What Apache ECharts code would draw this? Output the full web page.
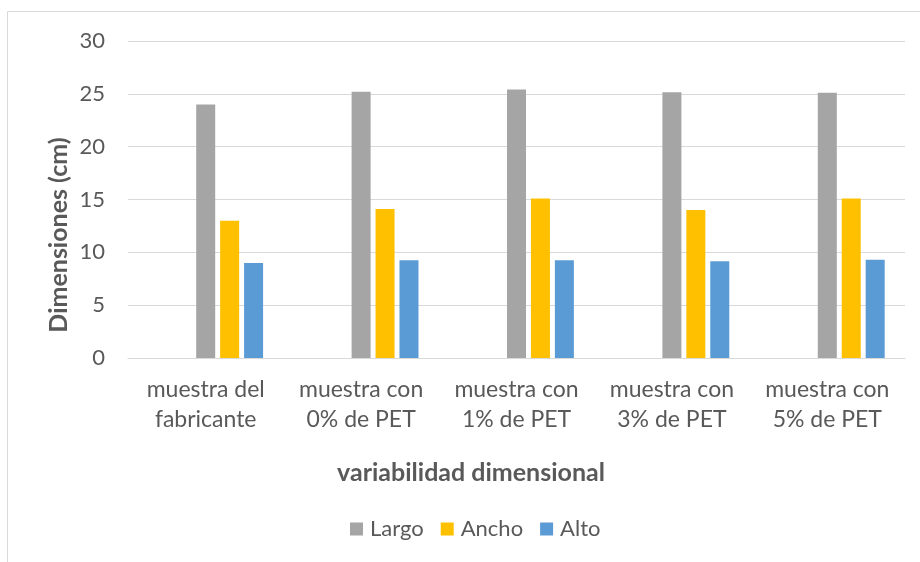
<!DOCTYPE html>
<html>
<head>
<meta charset="utf-8">
<style>
  html, body { margin: 0; padding: 0; background: #fff; }
  #chart { width: 920px; height: 562px; }
</style>
<script src="https://cdn.jsdelivr.net/npm/echarts@6/dist/echarts.min.js"></script>
</head>
<body>
<div id="chart"></div>
<script>
const categories = [
  'muestra del\nfabricante',
  'muestra con\n0% de PET',
  'muestra con\n1% de PET',
  'muestra con\n3% de PET',
  'muestra con\n5% de PET'
];
const largo = [24.0, 25.2, 25.4, 25.15, 25.1];
const ancho = [13.0, 14.1, 15.1, 14.0, 15.1];
const alto  = [9.0, 9.25, 9.25, 9.15, 9.3];
const yTicks = { min: 0, max: 30, interval: 5 };

const FONT = 'Lato';
const TEXT = '#595959';
const GRID_LINE = '#d9d9d9';

const chart = echarts.init(document.getElementById('chart'), null, { renderer: 'canvas' });

const barBase = { type: 'bar', barWidth: 19, barGap: '26%' };

chart.setOption({
  animation: false,
  textStyle: { fontFamily: FONT, color: TEXT },
  grid: { left: 128, right: 15, top: 41, bottom: 204, containLabel: false },
  xAxis: {
    type: 'category',
    data: categories,
    axisLine: { lineStyle: { color: GRID_LINE, width: 1 } },
    axisTick: { show: false },
    axisLabel: { color: TEXT, fontSize: 23, lineHeight: 30, margin: 17, fontFamily: FONT, interval: 0 }
  },
  yAxis: {
    type: 'value',
    min: yTicks.min, max: yTicks.max, interval: yTicks.interval,
    axisLine: { show: false },
    axisTick: { show: false },
    splitLine: { lineStyle: { color: GRID_LINE, width: 1 } },
    axisLabel: { color: TEXT, fontSize: 22, margin: 23, fontFamily: FONT }
  },
  legend: {
    data: ['Largo', 'Ancho', 'Alto'],
    bottom: 22,
    left: 350,
    icon: 'rect',
    itemWidth: 13,
    itemHeight: 13,
    itemGap: 17,
    padding: 0,
    textStyle: { color: TEXT, fontSize: 22, fontFamily: FONT, padding: [0, 0, 0, 2] }
  },
  graphic: [
    {
      type: 'rect',
      shape: { x: 7.5, y: 11.5, width: 960, height: 600 },
      style: { fill: 'none', stroke: '#d9d9d9', lineWidth: 1 },
      silent: true
    },
    {
      type: 'text',
      x: 59, y: 235,
      rotation: Math.PI / 2,
      style: {
        text: 'Dimensiones (cm)',
        fontFamily: FONT, fontSize: 25, fontWeight: 'bold',
        fill: TEXT, align: 'center', verticalAlign: 'middle'
      }
    },
    {
      type: 'text',
      x: 471, y: 473,
      style: {
        text: 'variabilidad dimensional',
        fontFamily: FONT, fontSize: 25, fontWeight: 'bold',
        fill: TEXT, align: 'center', verticalAlign: 'middle'
      }
    }
  ],
  series: [
    Object.assign({ name: '_pad1', data: [], silent: true }, barBase),
    Object.assign({ name: '_pad2', data: [], silent: true }, barBase),
    Object.assign({ name: 'Largo', data: largo, itemStyle: { color: '#a5a5a5' } }, barBase),
    Object.assign({ name: 'Ancho', data: ancho, itemStyle: { color: '#ffc000' } }, barBase),
    Object.assign({ name: 'Alto', data: alto, itemStyle: { color: '#5b9bd5' } }, barBase)
  ]
});
</script>
</body>
</html>
